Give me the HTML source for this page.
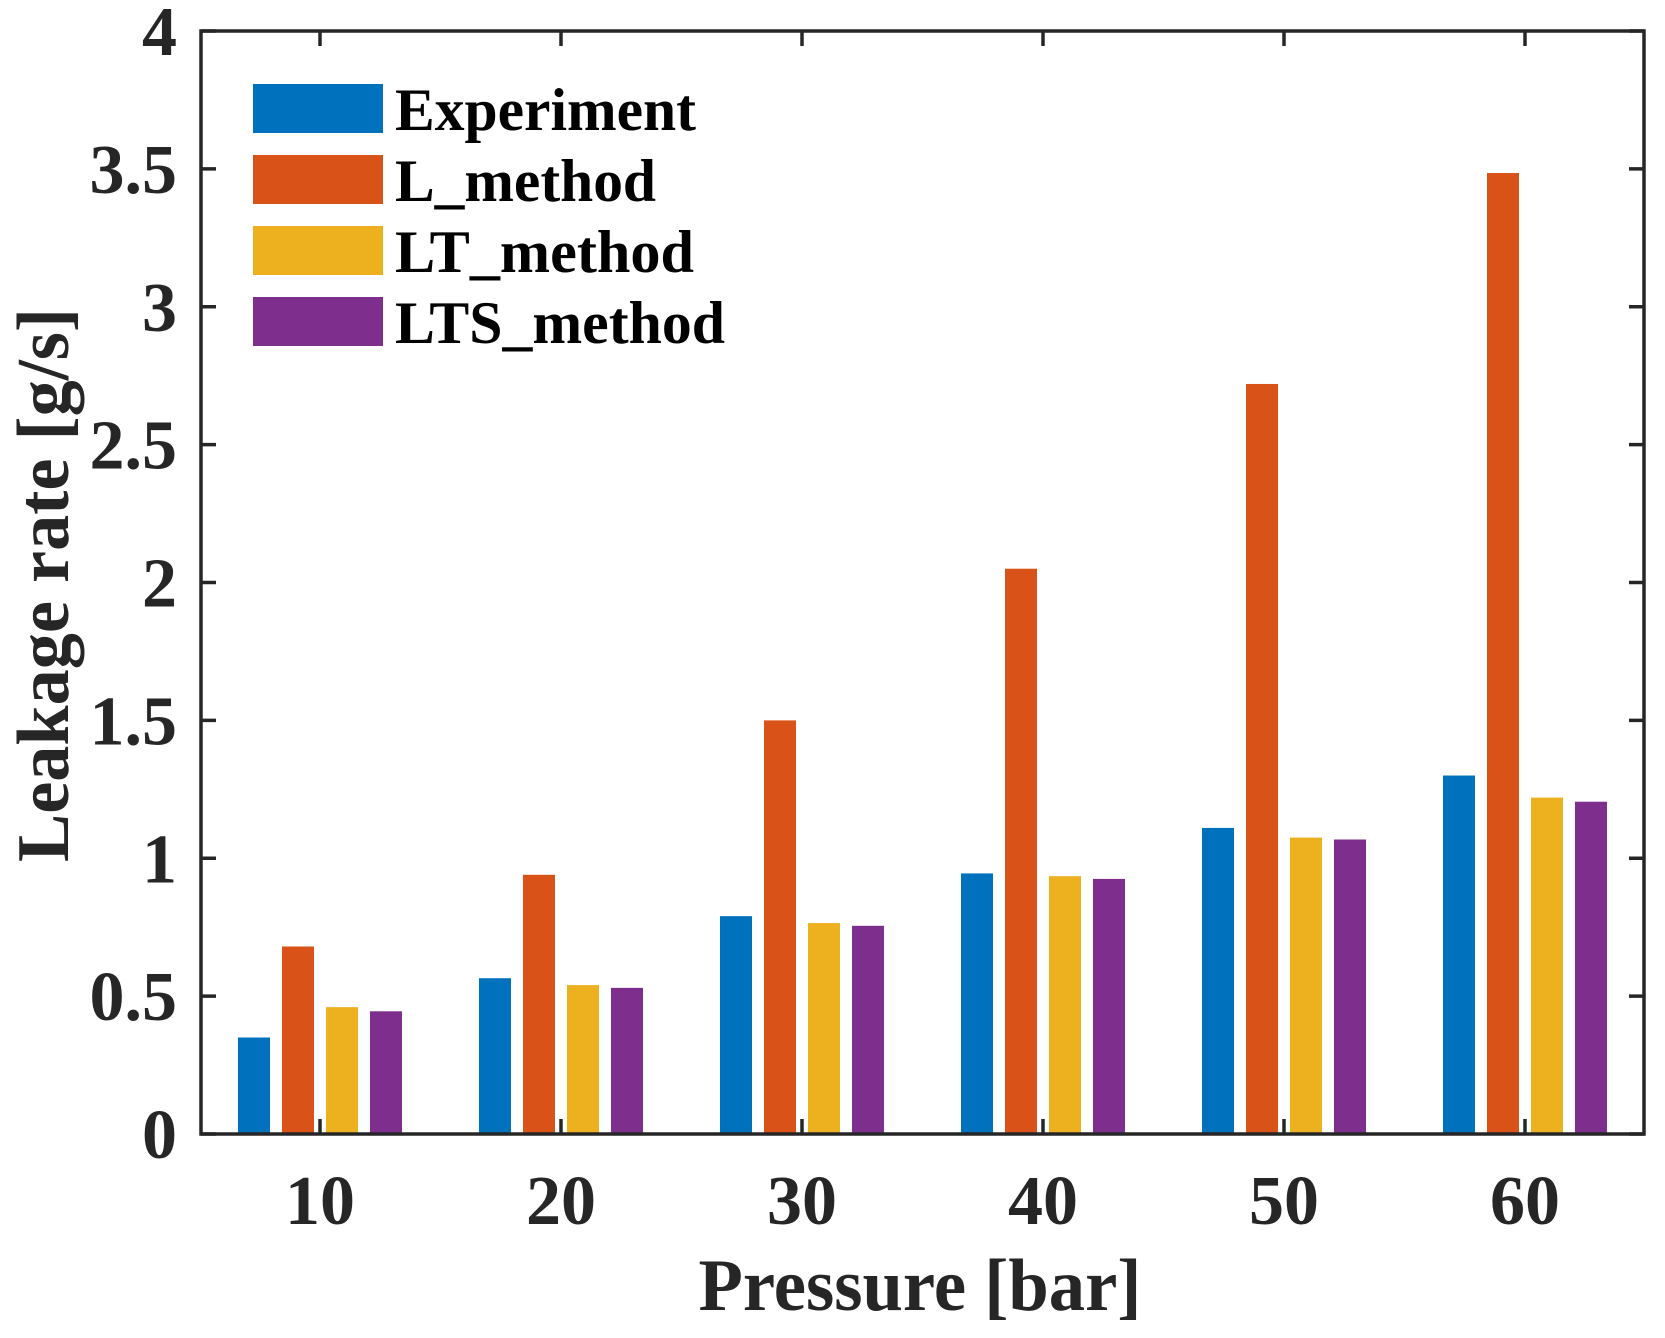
<!DOCTYPE html>
<html><head><meta charset="utf-8"><style>
html,body{margin:0;padding:0;background:#fff;}
svg{display:block;font-family:"Liberation Serif",serif;font-weight:bold;}
</style></head><body>
<svg id="chart" width="1665" height="1338" viewBox="0 0 1665 1338" xmlns="http://www.w3.org/2000/svg">
<g id="bars"></g>
<g id="axes"></g>
<g id="legend"></g>
<text x="920" y="1310" text-anchor="middle" font-size="74" fill="#262626" textLength="443" lengthAdjust="spacingAndGlyphs">Pressure [bar]</text>
<text transform="translate(68,585) rotate(-90)" x="0" y="0" text-anchor="middle" font-size="74" fill="#262626" textLength="554" lengthAdjust="spacingAndGlyphs">Leakage rate [g/s]</text>
</svg>
<script>
const categories = ["10","20","30","40","50","60"];
const seriesNames = ["Experiment","L_method","LT_method","LTS_method"];
const experiment = [0.35,0.565,0.79,0.945,1.11,1.30];
const lMethod = [0.68,0.94,1.50,2.05,2.72,3.485];
const ltMethod = [0.46,0.54,0.765,0.935,1.075,1.22];
const ltsMethod = [0.445,0.53,0.755,0.925,1.068,1.205];
const yTicks = [0,0.5,1,1.5,2,2.5,3,3.5,4];
const yTickLabels = ["0","0.5","1","1.5","2","2.5","3","3.5","4"];

const colors = ["#0072BD","#D95319","#EDB120","#7E2F8E"];
const series = [experiment,lMethod,ltMethod,ltsMethod];
const L=201,R=1644,T=31,B=1134;
const NS="http://www.w3.org/2000/svg";
function y(v){return B-(v/4)*(B-T);}
function x(i){return 320+i*241;}
function mk(tag,attrs,parent){const e=document.createElementNS(NS,tag);for(const k in attrs)e.setAttribute(k,attrs[k]);parent.appendChild(e);return e;}
const bars=document.getElementById('bars'),axes=document.getElementById('axes'),legend=document.getElementById('legend');
const offs=[-66,-22,22,66],bw=32;
series.forEach((s,si)=>{s.forEach((v,i)=>{
 const r=mk('rect',{x:x(i)+offs[si]-bw/2,y:y(v),width:bw,height:B-y(v),fill:colors[si]},bars);
 
 
});});
const frame=mk('rect',{x:L,y:T,width:R-L,height:B-T,fill:'none',stroke:'#262626','stroke-width':3.5},axes);


yTicks.forEach((v,i)=>{
 const yy=y(v);
 mk('line',{x1:L,x2:L+15,y1:yy,y2:yy,stroke:'#262626','stroke-width':3.5},axes);
 mk('line',{x1:R,x2:R-15,y1:yy,y2:yy,stroke:'#262626','stroke-width':3.5},axes);
 const t=mk('text',{x:177,y:yy+24,'text-anchor':'end','font-size':70,fill:'#262626'},axes);
 t.textContent=yTickLabels[i];
 
 
});
categories.forEach((c,i)=>{
 const xx=x(i);
 mk('line',{x1:xx,x2:xx,y1:B,y2:B-15,stroke:'#262626','stroke-width':3.5},axes);
 mk('line',{x1:xx,x2:xx,y1:T,y2:T+15,stroke:'#262626','stroke-width':3.5},axes);
 const t=mk('text',{x:xx,y:1224,'text-anchor':'middle','font-size':70,fill:'#262626'},axes);
 t.textContent=c;
 
 
});
const legW=[301,261,299,330];
seriesNames.forEach((n,i)=>{
 const yy=84+i*71;
 const r=mk('rect',{x:253,y:yy,width:130,height:49,fill:colors[i]},legend);
 
 
 const t=mk('text',{x:395,y:yy+46,'font-size':60,fill:'#000',textLength:legW[i],lengthAdjust:'spacingAndGlyphs'},legend);
 t.textContent=n;
 
 
});
</script>
</body></html>
